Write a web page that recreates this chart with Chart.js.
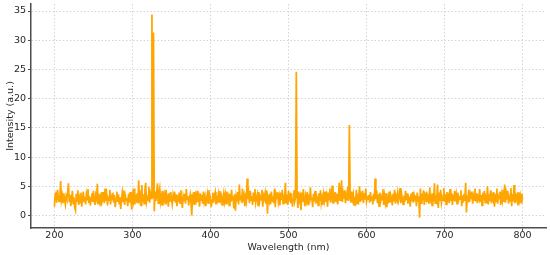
<!DOCTYPE html>
<html>
<head>
    <title>Spectrum</title>
    <style>
        body { margin: 0; background: #fff; }
        #box { width: 550px; height: 255px; }
    </style>
</head>
<body>
    <div id="box"><canvas id="chart"></canvas></div>
    <script src="https://cdn.jsdelivr.net/npm/chart.js@4.4.1/dist/chart.umd.min.js"></script>
    <script>

// intensity, one value per nm from 200 to 800
let intensity = [
    1.5, 3.6, 4.1, 2.2, 4.4, 3.0, 2.4, 3.1, 5.9, 2.6, 3.4, 2.1, 3.8, 2.7, 1.9, 3.3, 2.8, 4.0, 5.5, 2.3,
    3.5, 1.6, 2.9, 4.2, 2.0, 3.1, 1.4, 0.9, 3.7, 2.5, 4.3, 1.8, 3.0, 2.2, 3.9, 1.5, 2.8, 4.1, 2.4, 3.2,
    1.9, 3.6, 2.7, 4.5, 2.1, 3.3, 1.7, 2.9, 3.8, 2.3, 4.2, 2.6, 1.8, 3.5, 2.9, 5.4, 2.0, 3.7, 2.4, 3.1,
    1.6, 4.0, 2.8, 3.3, 2.1, 4.6, 2.5, 3.4, 1.7, 3.0, 2.6, 4.4, 1.9, 3.2, 2.7, 3.9, 2.2, 3.5, 1.4, 2.9,
    4.1, 2.3, 3.6, 2.0, 3.1, 1.1, 2.8, 3.9, 2.4, 4.3, 1.8, 3.3, 2.6, 3.0, 1.6, 3.7, 2.2, 4.0, 2.9, 1.0,
    3.4, 2.5, 4.6, 1.9, 3.2, 2.7, 3.8, 2.1, 6.0, 2.8, 3.5, 1.7, 5.2, 2.4, 3.6, 2.0, 4.4, 5.6, 2.3, 3.1,
    2.6, 4.9, 2.2, 3.7, 2.9, 34.4, 3.0, 31.3, 0.7, 4.1, 2.5, 3.6, 5.5, 2.1, 3.9, 4.7, 2.4, 3.3, 1.8, 4.2,
    2.7, 3.5, 2.0, 4.4, 2.6, 3.1, 1.5, 3.8, 2.3, 4.0, 2.8, 1.9, 3.4, 2.5, 4.1, 2.2, 3.6, 1.6, 3.0, 2.7,
    3.9, 2.1, 4.3, 2.6, 1.3, 3.2, 2.4, 3.7, 2.0, 4.5, 2.8, 3.3, 1.7, 2.9, 3.6, 2.2, 0.0, 3.1, 2.5, 4.0,
    1.8, 3.4, 2.7, 4.2, 2.3, 3.0, 1.5, 3.8, 2.6, 3.5, 2.0, 4.1, 2.4, 3.2, 1.6, 2.9, 3.7, 2.1, 4.3, 2.8,
    3.1, 1.4, 2.6, 3.9, 2.2, 3.4, 4.0, 1.9, 3.0, 2.5, 3.6, 2.3, 4.2, 2.7, 3.3, 1.8, 2.9, 3.8, 2.4, 3.5,
    2.0, 4.1, 2.6, 3.2, 1.7, 3.7, 2.3, 4.4, 2.8, 3.0, 1.2, 3.6, 0.8, 3.3, 2.5, 4.0, 1.9, 5.3, 2.7, 3.4,
    2.2, 4.6, 2.9, 3.5, 1.6, 3.1, 2.4, 6.3, 2.8, 3.7, 2.1, 4.2, 2.6, 3.3, 1.8, 3.9, 2.5, 4.5, 2.2, 3.0,
    3.6, 1.7, 4.0, 2.4, 3.2, 2.7, 4.4, 1.5, 3.4, 2.9, 3.8, 2.0, 4.3, 0.3, 3.1, 2.6, 3.7, 1.9, 4.1, 2.5,
    3.3, 2.1, 4.6, 1.4, 3.5, 2.8, 4.0, 2.3, 3.2, 1.7, 3.9, 2.6, 4.4, 2.0, 3.1, 2.7, 5.6, 2.2, 3.6, 1.8,
    4.2, 2.9, 3.4, 2.1, 3.8, 1.5, 2.7, 4.3, 2.4, 3.1, 24.6, 3.5, 1.3, 4.1, 2.6, 3.2, 0.9, 3.9, 2.3, 4.5,
    2.8, 1.6, 3.3, 2.5, 4.0, 1.9, 3.6, 2.2, 4.8, 2.7, 3.1, 1.4, 3.7, 2.4, 4.2, 2.0, 3.4, 2.9, 1.7, 3.8,
    2.5, 4.3, 2.1, 3.0, 1.8, 3.6, 2.6, 4.1, 2.3, 3.3, 1.5, 3.9, 2.7, 4.6, 2.2, 3.2, 5.1, 2.0, 3.5, 2.8,
    4.0, 2.4, 3.7, 1.9, 3.1, 5.6, 2.6, 3.4, 6.0, 2.3, 3.8, 2.9, 4.3, 2.1, 3.5, 2.7, 4.9, 2.5, 15.5, 3.3,
    2.2, 4.1, 2.8, 3.6, 1.8, 3.2, 2.5, 4.4, 2.0, 3.7, 2.9, 5.0, 2.3, 3.4, 2.6, 4.2, 2.1, 3.8, 2.7, 4.6,
    2.4, 3.1, 2.8, 3.5, 2.2, 4.0, 2.6, 3.3, 1.9, 3.7, 2.5, 6.3, 2.8, 4.3, 2.1, 3.6, 1.6, 3.9, 2.4, 3.2,
    2.7, 4.5, 1.8, 3.4, 2.3, 3.8, 1.4, 3.0, 2.6, 4.1, 2.2, 3.5, 2.9, 1.7, 3.7, 2.4, 4.4, 2.0, 3.3, 2.8,
    3.9, 2.5, 3.1, 4.7, 2.1, 3.6, 2.7, 1.9, 3.4, 2.3, 4.2, 2.6, 3.8, 2.0, 3.2, 2.9, 1.5, 3.7, 2.4, 4.0,
    2.2, 3.5, 2.8, 3.0, 1.6, 3.9, 2.5, 3.3, -0.4, 4.6, 2.1, 3.7, 2.6, 4.3, 1.8, 3.4, 2.9, 4.1, 2.3, 3.6,
    2.0, 4.8, 2.7, 3.2, 1.7, 3.8, 2.4, 5.5, 2.1, 3.5, 2.8, 5.3, 1.3, 3.9, 2.5, 4.4, 2.2, 3.1, 2.6, 4.7,
    2.3, 3.6, 1.9, 4.0, 2.7, 3.3, 2.1, 4.5, 2.5, 3.8, 1.8, 3.2, 2.9, 4.2, 2.4, 3.5, 2.0, 3.9, 2.6, 3.1,
    2.8, 4.3, 1.6, 3.4, 2.2, 3.7, 2.5, 5.6, 0.5, 3.0, 2.7, 4.4, 2.3, 3.6, 2.9, 4.1, 2.0, 3.3, 2.6, 4.6,
    2.4, 3.8, 2.1, 3.2, 2.8, 4.5, 2.3, 3.5, 1.7, 3.9, 2.6, 4.2, 2.2, 3.1, 2.7, 5.0, 1.9, 3.6, 2.5, 4.3,
    2.1, 3.4, 2.8, 4.0, 1.5, 3.7, 2.4, 4.6, 2.0, 3.3, 2.9, 4.1, 1.8, 3.5, 2.6, 4.4, 2.3, 5.3, 2.2, 3.8,
    2.7, 4.2, 2.0, 3.1, 2.5, 4.7, 1.6, 3.6, 2.4, 5.2, 2.1, 3.9, 2.8, 3.3, 1.7, 4.0, 2.6, 3.4, 2.2, 3.7,
    2.7
];
let startWavelength = 200;
let xTicks = [200, 300, 400, 500, 600, 700, 800];
let yTicks = [0, 5, 10, 15, 20, 25, 30, 35];

let points = intensity.map(function(v, i) { return {x: startWavelength + i, y: v} });

let font = {family: "'DejaVu Sans', sans-serif", size: 9.5};
let textColor = "#262626";
let gridColor = "#d4d4d4";
let axisColor = "#4d4d4d";

// drop the half-label padding chart.js adds at the axis ends
function noEndPadding(s) {
    s.paddingTop = 0;
    s.paddingBottom = 0;
    s.paddingLeft = 0;
    s.paddingRight = 0;
}

let ctx = document.getElementById("chart").getContext("2d");
let chart = new Chart(ctx, {
    type: 'line',
    data: {
        datasets: [{
            data: points,
            borderColor: "#ffa500",
            borderWidth: 1.7,
            pointRadius: 0,
            tension: 0,
            fill: false
        }]
    },
    options: {
        responsive: true,
        maintainAspectRatio: false,
        animation: false,
        layout: {padding: {left: 5, right: 4, top: 4, bottom: 0}},
        plugins: {legend: {display: false}, tooltip: {enabled: false}},
        scales: {
            x: {
                type: 'linear',
                min: 170,
                max: 830,
                afterBuildTicks: function(s) { s.ticks = xTicks.map(function(v) { return {value: v} }) },
                afterFit: function(s) { s.height = 27; noEndPadding(s) },
                ticks: {font: font, color: textColor, padding: -1, maxRotation: 0},
                grid: {color: gridColor, tickColor: axisColor, tickLength: 3, tickBorderDash: []},
                border: {color: axisColor, width: 1.5, dash: [1.5, 2]},
                title: {display: true, text: "Wavelength (nm)", font: font, color: textColor, padding: {top: 0, bottom: 2}}
            },
            y: {
                min: -2.15,
                max: 36.2,
                afterBuildTicks: function(s) { s.ticks = yTicks.map(function(v) { return {value: v} }) },
                afterFit: function(s) { s.width = 26; noEndPadding(s) },
                ticks: {font: font, color: textColor, padding: 2},
                grid: {color: gridColor, tickColor: axisColor, tickLength: 3, tickBorderDash: []},
                border: {color: axisColor, width: 1.5, dash: [1.5, 2]},
                title: {display: true, text: "Intensity (a.u.)", font: font, color: textColor, padding: {top: 0, bottom: 0}}
            }
        }
    }
});

    </script>
</body>
</html>
